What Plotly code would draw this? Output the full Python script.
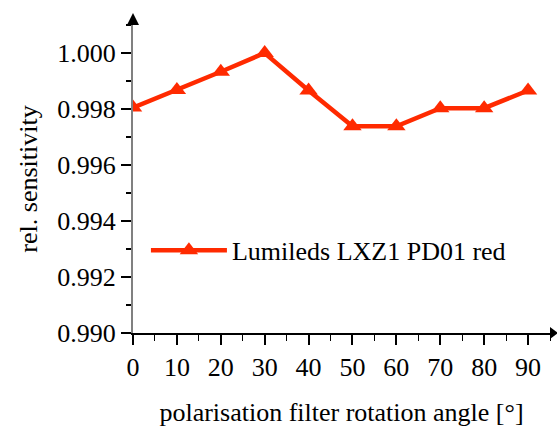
import plotly.graph_objects as go

angles = [0, 10, 20, 30, 40, 50, 60, 70, 80, 90]
sensitivity = [0.99805, 0.99868, 0.99933, 1.0000, 0.99866, 0.99738, 0.99738, 0.99803, 0.99803, 0.99866]
series_name = "Lumileds LXZ1 PD01 red"
x_title = "polarisation filter rotation angle [°]"
y_title = "rel. sensitivity"

FONT = "Liberation Serif"
RED = "#ff2a00"

fig = go.Figure()
fig.add_trace(go.Scatter(
    x=angles, y=sensitivity, name=series_name, mode="lines+markers",
    line=dict(color=RED, width=4.5),
    marker=dict(symbol="triangle-up", size=16, color=RED),
    xaxis="x", yaxis="y",
))

common_x = dict(range=[0, 95], dtick=10, tick0=0, showgrid=False, zeroline=False)
common_y = dict(range=[0.990, 1.0010], dtick=0.002, tick0=0.990, showgrid=False, zeroline=False)

fig.update_layout(
    width=557, height=429,
    margin=dict(l=133, r=7, t=25, b=94),
    paper_bgcolor="white", plot_bgcolor="white",
    font=dict(family=FONT, size=26, color="black"),
    showlegend=True,
    legend=dict(x=0.031, y=0.268, xanchor="left", yanchor="middle",
                bgcolor="rgba(0,0,0,0)", font=dict(size=26, family=FONT),
                itemwidth=76),
    xaxis=dict(**common_x, showline=True, linecolor="black", linewidth=1.5,
               ticks="outside", ticklen=10, tickwidth=1.5, tickcolor="black",
               minor=dict(ticks="outside", ticklen=6, dtick=5, tickwidth=1, tickcolor="black"),
               title=dict(text=x_title, standoff=22, font=dict(size=26, family=FONT)),
               tickfont=dict(size=26, family=FONT)),
    xaxis2=dict(**common_x, overlaying="x", anchor="y", side="bottom", matches="x",
                showline=False, showticklabels=False,
                ticks="inside", ticklen=10, tickwidth=1.5, tickcolor="black",
                minor=dict(ticks="inside", ticklen=6, dtick=5, tickwidth=1, tickcolor="black")),
    yaxis=dict(**common_y, showline=True, linecolor="#808080", linewidth=2,
               ticks="outside", ticklen=10, tickwidth=1.5, tickcolor="black",
               tickformat=".3f",
               minor=dict(ticks="outside", ticklen=5, dtick=0.001, tickwidth=1.5, tickcolor="black"),
               title=dict(text=y_title, standoff=12, font=dict(size=26, family=FONT)),
               tickfont=dict(size=26, family=FONT)),
    yaxis2=dict(**common_y, overlaying="y", anchor="x", side="left", matches="y",
                showline=False, showticklabels=False,
                ticks="inside", ticklen=10, tickwidth=1.5, tickcolor="black",
                minor=dict(ticks="inside", ticklen=5, dtick=0.001, tickwidth=1.5, tickcolor="black")),
)

# axis arrowheads (decoration)
fig.add_shape(type="path", xref="paper", yref="paper", xsizemode="pixel", ysizemode="pixel",
              xanchor=0, yanchor=1, path="M-6,0 L6,0 L0,12 Z",
              fillcolor="black", line=dict(width=0), layer="above")
fig.add_shape(type="path", xref="paper", yref="paper", xsizemode="pixel", ysizemode="pixel",
              xanchor=1, yanchor=0, path="M0,-6 L8,0 L0,6 Z",
              fillcolor="black", line=dict(width=0), layer="above")

fig.write_html("out.html")
